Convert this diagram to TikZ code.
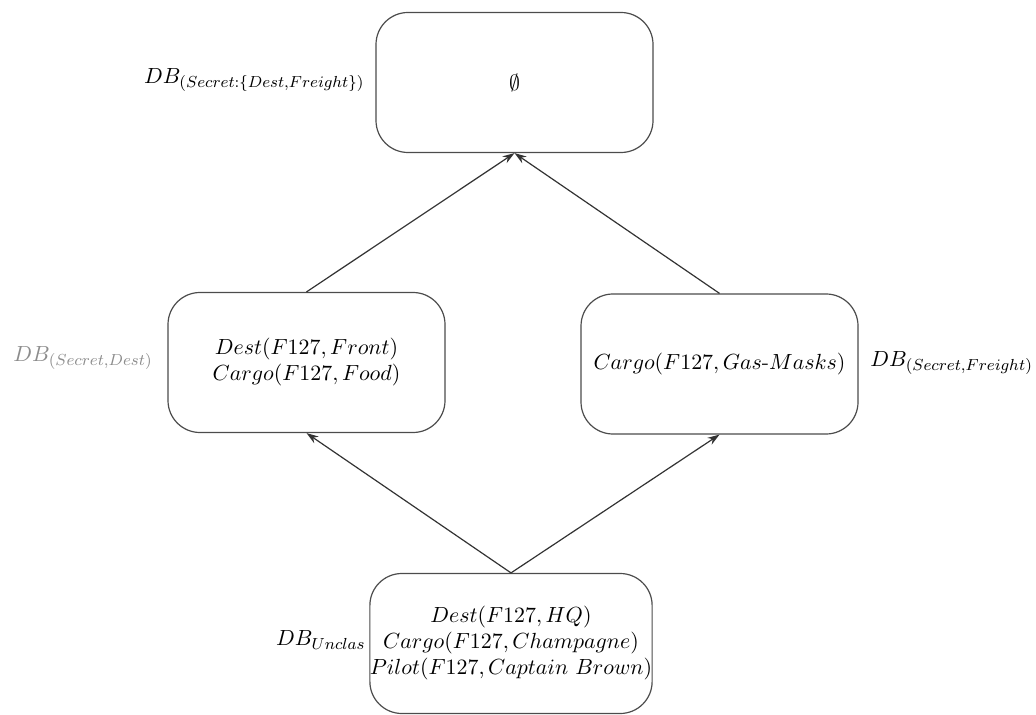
\documentclass[tikz,border=0pt]{standalone}
\usetikzlibrary{arrows.meta}
\begin{document}
\begin{tikzpicture}[x=0.5pt,y=-0.5pt,
  dbbox/.style={draw=black!70, line width=0.6pt, rounded corners=16pt,
    minimum width=138.5pt, minimum height=70pt, inner sep=0pt, align=center,
    font=\fontsize{11}{13}\selectfont},
  lbl/.style={inner sep=0pt, font=\fontsize{11}{13}\selectfont},
  conn/.style={draw=black!80, line width=0.6pt, -{Stealth[length=6pt,width=4pt]}}]
\useasboundingbox (0,0) rectangle (1036,715);
\node[dbbox] (top) at (514.5,82.5) {$\emptyset$};
\node[dbbox] (left) at (306.5,362.5) {$Dest(F127, Front)$\\$Cargo(F127, Food)$};
\node[dbbox] (right) at (719.5,364) {$Cargo(F127, Gas\mbox{-}Masks)$};
\node[dbbox] (bot) at (511,643.5) {$Dest(F127, HQ)$\\$Cargo(F127, Champagne)$\\$Pilot(F127, Captain\ Brown)$};
\node[lbl, anchor=east] (ltop) at (365,80) {$DB_{(Secret:\{Dest,Freight\})}$};
\node[lbl, anchor=west, text=black!45] (lleft) at (13,358) {$DB_{(Secret,Dest)}$};
\node[lbl, anchor=west] (lright) at (870,363) {$DB_{(Secret,Freight)}$};
\node[lbl, anchor=east] (lbot) at (366,640) {$DB_{Unclas}$};
\draw[conn] (left.north) -- (top.south);
\draw[conn] (right.north) -- (top.south);
\draw[conn] (bot.north) -- (left.south);
\draw[conn] (bot.north) -- (right.south);
\end{tikzpicture}
\end{document}
